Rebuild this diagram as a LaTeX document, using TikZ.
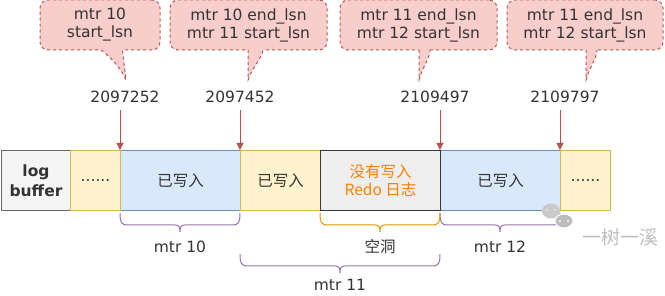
\documentclass[tikz,border=0pt]{standalone}
\usepackage{fontspec}
\setmainfont{DejaVu Sans}
\newfontfamily\cjk{Noto Sans CJK SC}
\usetikzlibrary{arrows.meta}
\definecolor{txt}{HTML}{333333}
\definecolor{logfill}{HTML}{F5F5F5}
\definecolor{logdraw}{HTML}{666666}
\definecolor{yfill}{HTML}{FFF2CC}
\definecolor{ydraw}{HTML}{D6B656}
\definecolor{bfill}{HTML}{DAE8FC}
\definecolor{bdraw}{HTML}{6C8EBF}
\definecolor{gfill}{HTML}{EEEEEE}
\definecolor{gdraw}{HTML}{36393D}
\definecolor{cfill}{HTML}{F8CECC}
\definecolor{cdraw}{HTML}{B85450}
\definecolor{purp}{HTML}{9673A6}
\definecolor{orng}{HTML}{D79B00}
\definecolor{otext}{HTML}{FF8000}
\definecolor{wm}{HTML}{BDBDBD}
\newcommand{\mybrace}[4]{%
  \draw[#4, line width=1pt]
   (#1,#3) .. controls (#1,#3+9) and (#1+1,#3+12) .. (#1+8,#3+12)
   -- ({(#1+#2)/2-5},#3+12) .. controls ({(#1+#2)/2-1},#3+12) and ({(#1+#2)/2},#3+14) .. ({(#1+#2)/2},#3+19)
   .. controls ({(#1+#2)/2},#3+14) and ({(#1+#2)/2+1},#3+12) .. ({(#1+#2)/2+5},#3+12)
   -- (#2-8,#3+12) .. controls (#2-1,#3+12) and (#2,#3+9) .. (#2,#3);}
\begin{document}
\begin{tikzpicture}[x=1pt,y=-1pt,
  font=\fontsize{15.5}{18}\selectfont, text=txt,
  cell/.style={draw, line width=1pt, minimum height=60pt, inner sep=0pt, anchor=north west, align=center},
  logcell/.style={cell, fill=logfill, draw=logdraw},
  ycell/.style={cell, fill=yfill, draw=ydraw},
  bcell/.style={cell, fill=bfill, draw=bdraw},
  gcell/.style={cell, fill=gfill, draw=gdraw},
  callout/.style={draw=cdraw, fill=cfill, dashed, line width=1pt, rounded corners=8pt, minimum height=50pt, inner sep=0pt, align=center},
  tail/.style={draw=cdraw, dashed, line width=1pt},
  arr/.style={draw=cdraw, line width=1pt, -{Triangle[length=7pt,width=7pt]}},
  num/.style={inner sep=0pt}]
\useasboundingbox (0,0) rectangle (665,296);

% cells
\node[logcell, minimum width=69pt] (log) at (1,150) {\textbf{log}\\[2pt]\textbf{buffer}};
\node[bcell, minimum width=120pt] (b1) at (120,150) {\cjk 已写入};
\node[bcell, minimum width=120pt] (b2) at (440,150) {\cjk 已写入};
\node[ycell, minimum width=50pt] (y1) at (70,150) {......};
\node[ycell, minimum width=80pt] (y2) at (240,150) {\cjk 已写入};
\node[ycell, minimum width=50pt] (y3) at (560,150) {......};
\node[gcell, minimum width=120pt, text=otext] (g1) at (320,150) {\cjk 没有写入\\\cjk Redo 日志};

% callouts
\node[callout, minimum width=120pt] (c1) at (100,25) {mtr 10\\start\_lsn};
\node[callout, minimum width=157pt] (c2) at (248.5,25) {mtr 10 end\_lsn\\mtr 11 start\_lsn};
\node[callout, minimum width=157pt] (c3) at (418.5,25) {mtr 11 end\_lsn\\mtr 12 start\_lsn};
\node[callout, minimum width=156pt] (c4) at (585,25) {mtr 11 end\_lsn\\mtr 12 start\_lsn};
% tails
\fill[cfill] (101,48) -- (101,50) .. controls (112,58) and (122,70) .. (126,80) -- (122.5,50) -- (122.5,48) -- cycle;
\draw[tail] (101,50) .. controls (112,58) and (122,70) .. (126,80) -- (122.5,50);
\fill[cfill] (248,48) -- (248,80) .. controls (252,68) and (262,58) .. (263,50) -- (263,48) -- cycle;
\draw[tail] (248,50) -- (248,80) .. controls (252,68) and (262,58) .. (263,50);
\fill[cfill] (419,48) -- (419,80) .. controls (422,68) and (430,58) .. (430,50) -- (430,48) -- cycle;
\draw[tail] (419,50) -- (419,80) .. controls (422,68) and (430,58) .. (430,50);
\fill[cfill] (586,48) -- (586,80) .. controls (589,68) and (597,58) .. (597,50) -- (597,48) -- cycle;
\draw[tail] (586,50) -- (586,80) .. controls (589,68) and (597,58) .. (597,50);

% numbers
\node[num] (n1) at (125,97) {2097252};
\node[num] (n2) at (240,97) {2097452};
\node[num] (n3) at (435,97) {2109497};
\node[num] (n4) at (565,97) {2109797};

% arrows
\coordinate (p1) at (120,110);
\coordinate (p2) at (240,110);
\coordinate (p3) at (440,110);
\coordinate (p4) at (560,110);
\draw[arr] (p1) -- (b1.north west);
\draw[arr] (p2) -- (y2.north west);
\draw[arr] (p3) -- (b2.north west);
\draw[arr] (p4) -- (y3.north west);

% braces
\mybrace{120}{240}{213}{purp}
\mybrace{440}{560}{213}{purp}
\mybrace{320}{440}{213}{orng}
\mybrace{240}{440}{254}{purp}
\node (l1) at (180,247) {mtr 10};
\node (l2) at (380,247) {\cjk 空洞};
\node (l3) at (500,247) {mtr 12};
\node (l4) at (340,285) {mtr 11};

% watermark
\fill[wm!80] (551,211) ellipse (9pt and 7.5pt);
\fill[wm!50!white] (547,210) circle (1.3pt) (555,210) circle (1.3pt);
\fill[wm, draw=white, line width=1pt] (564,221) ellipse (9pt and 7pt);
\fill[white] (560,221) circle (1.2pt) (568,221) circle (1.2pt);
\node[text=wm, font=\fontsize{19}{22}\selectfont\cjk] (wmk) at (620,237) {一树一溪};
\end{tikzpicture}
\end{document}
